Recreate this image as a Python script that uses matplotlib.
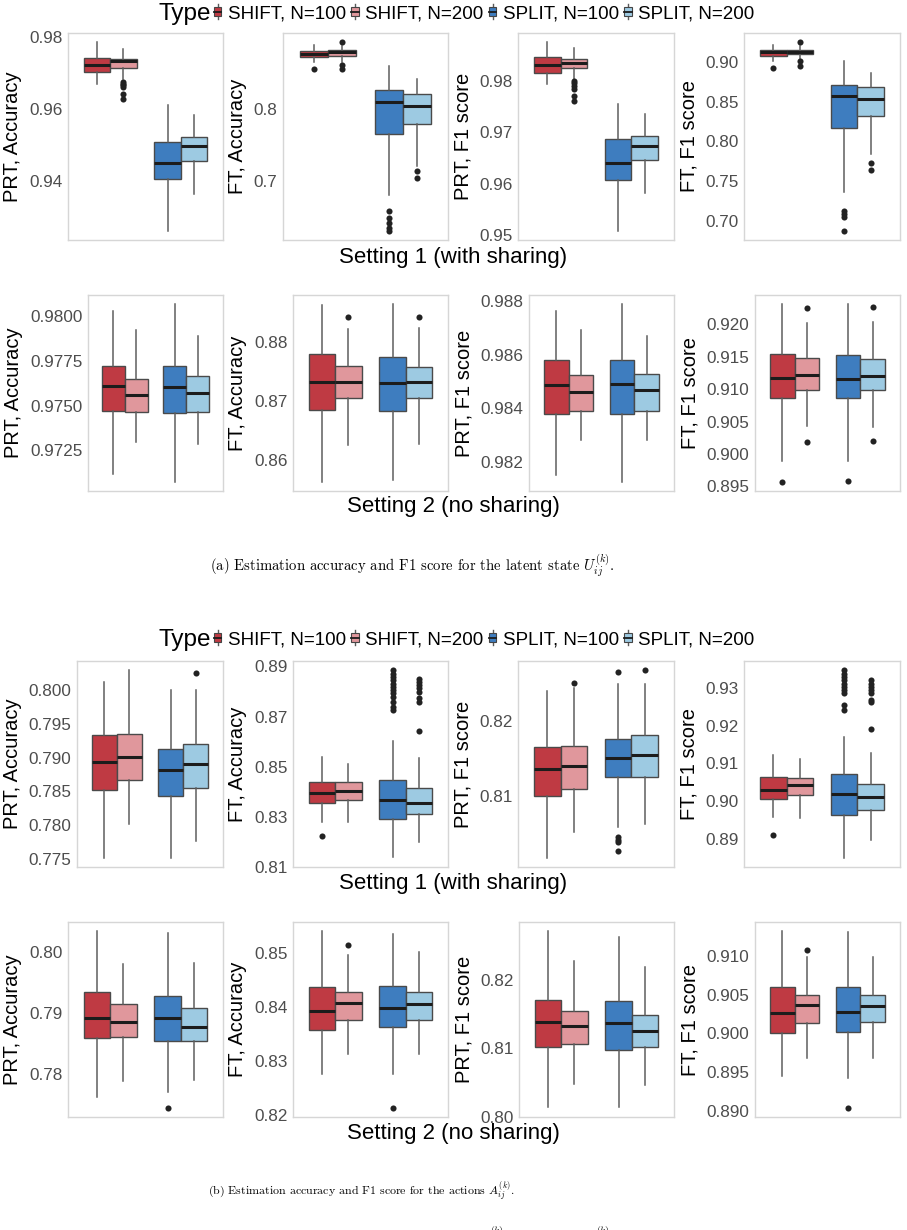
import matplotlib
matplotlib.use("Agg")
import matplotlib.pyplot as plt
from matplotlib.legend_handler import HandlerBase
from matplotlib.patches import Rectangle
from matplotlib.lines import Line2D

# box stats per group: [lower whisker, q1, median, q3, upper whisker]
# group order: SHIFT N=100, SHIFT N=200, SPLIT N=100, SPLIT N=200
types = ['SHIFT, N=100', 'SHIFT, N=200', 'SPLIT, N=100', 'SPLIT, N=200']
colors = ['#BF3A43', '#E0979C', '#3E7DBF', '#9DCAE2']

# (a) latent state U, setting 1
u1_prt_acc = [[0.96685, 0.97028, 0.97213, 0.97417, 0.97843],
              [0.96824, 0.97139, 0.97315, 0.97370, 0.97657],
              [0.92630, 0.94046, 0.94509, 0.95093, 0.96102],
              [0.93648, 0.94565, 0.94963, 0.95231, 0.95833]]
u1_prt_acc_out = [[], [0.9675, 0.9670, 0.9665, 0.9661, 0.9641, 0.9628], [], []]
u1_ft_acc = [[0.8648, 0.8727, 0.8764, 0.8810, 0.8894],
             [0.8648, 0.8741, 0.8787, 0.8819, 0.8880],
             [0.6806, 0.7653, 0.8102, 0.8269, 0.8602],
             [0.7213, 0.7801, 0.8046, 0.8208, 0.8417]]
u1_ft_acc_out = [[0.8556], [0.8926, 0.8611, 0.8556],
                 [0.6588, 0.6495, 0.6426, 0.6356, 0.6319], [0.7144, 0.7051]]
u1_prt_f1 = [[0.97935, 0.98163, 0.98306, 0.98456, 0.98749],
             [0.98033, 0.98248, 0.98358, 0.98423, 0.98632],
             [0.95088, 0.96078, 0.96404, 0.96873, 0.97544],
             [0.95818, 0.96456, 0.96743, 0.96925, 0.97349]]
u1_prt_f1_out = [[], [0.9800, 0.9795, 0.9790, 0.9784, 0.97707, 0.97609], [], []]
u1_ft_f1 = [[0.9013, 0.9084, 0.9126, 0.9151, 0.9222],
            [0.9034, 0.9105, 0.9130, 0.9159, 0.9201],
            [0.7365, 0.8174, 0.8572, 0.8719, 0.9021],
            [0.7839, 0.8321, 0.8539, 0.8686, 0.8866]]
u1_ft_f1_out = [[0.8929], [0.9252, 0.9013, 0.8950],
                [0.7126, 0.7084, 0.7042, 0.6874], [0.7725, 0.7637]]

# (a) latent state U, setting 2
u2_prt_acc = [[0.97115, 0.97469, 0.97610, 0.97724, 0.98028],
              [0.97297, 0.97462, 0.97559, 0.97649, 0.97925],
              [0.97072, 0.97460, 0.97606, 0.97724, 0.98069],
              [0.97284, 0.97465, 0.97572, 0.97666, 0.97891]]
u2_prt_acc_out = [[], [], [], []]
u2_ft_acc = [[0.85617, 0.86846, 0.87314, 0.87789, 0.88629],
             [0.86246, 0.87046, 0.87326, 0.87589, 0.88217],
             [0.85657, 0.86834, 0.87297, 0.87749, 0.88646],
             [0.86257, 0.87040, 0.87314, 0.87577, 0.88229]]
u2_ft_acc_out = [[], [0.88429], [], [0.88429]]
u2_prt_f1 = [[0.98153, 0.98379, 0.98488, 0.98581, 0.98763],
             [0.98281, 0.98390, 0.98460, 0.98525, 0.98691],
             [0.98125, 0.98379, 0.98490, 0.98579, 0.98790],
             [0.98281, 0.98390, 0.98468, 0.98528, 0.98669]]
u2_prt_f1_out = [[], [], [], []]
u2_ft_f1 = [[0.89888, 0.90861, 0.91172, 0.91539, 0.92311],
            [0.90432, 0.90991, 0.91213, 0.91472, 0.92010],
            [0.89888, 0.90861, 0.91161, 0.91524, 0.92311],
            [0.90421, 0.90991, 0.91208, 0.91467, 0.92036]]
u2_ft_f1_out = [[0.89567], [0.92248, 0.90178], [0.89583], [0.92259, 0.90199]]

# (b) actions A, setting 1
a1_prt_acc = [[0.77515, 0.78515, 0.78936, 0.79332, 0.80124],
              [0.78020, 0.78663, 0.79010, 0.79347, 0.80297],
              [0.77515, 0.78431, 0.78822, 0.79134, 0.80010],
              [0.77762, 0.78550, 0.78911, 0.79208, 0.80000]]
a1_prt_acc_out = [[], [], [], [0.80257]]
a1_ft_acc = [[0.82779, 0.83544, 0.83939, 0.84400, 0.85376],
             [0.82779, 0.83676, 0.84031, 0.84387, 0.85112],
             [0.81396, 0.82911, 0.83676, 0.84453, 0.86008],
             [0.81989, 0.83109, 0.83570, 0.84163, 0.85349]]
a1_ft_acc_out = [[0.82252], [],
                 [0.88842, 0.8871, 0.88578, 0.88446, 0.88315, 0.88183,
                  0.88051, 0.87919, 0.87787, 0.8759, 0.87392, 0.8726],
                 [0.8851, 0.8838, 0.8825, 0.8812, 0.8799, 0.8772, 0.8759, 0.86404]]
a1_prt_f1 = [[0.80169, 0.81000, 0.81356, 0.81644, 0.82400],
             [0.80511, 0.81089, 0.81391, 0.81658, 0.82444],
             [0.80578, 0.81244, 0.81498, 0.81756, 0.82489],
             [0.80622, 0.81253, 0.81542, 0.81813, 0.82489]]
a1_prt_f1_out = [[], [0.82511], [0.82653, 0.80444, 0.80409, 0.80378, 0.80253], [0.82676]]
a1_ft_f1 = [[0.89569, 0.90050, 0.90287, 0.90637, 0.91232],
            [0.89543, 0.90155, 0.90427, 0.90619, 0.91118],
            [0.88501, 0.89639, 0.90182, 0.90707, 0.91687],
            [0.88956, 0.89762, 0.90095, 0.90462, 0.91276]]
a1_ft_f1_out = [[0.89105], [],
                [0.93464, 0.93376, 0.93289, 0.93201, 0.93114, 0.93026,
                 0.92939, 0.92851, 0.92545, 0.92414],
                [0.93201, 0.93114, 0.93026, 0.92939, 0.92851, 0.92676, 0.92632, 0.91915]]

# (b) actions A, setting 2
a2_prt_acc = [[0.77636, 0.78587, 0.78924, 0.79348, 0.80342],
              [0.77897, 0.78603, 0.78848, 0.79147, 0.79793],
              [0.77707, 0.78549, 0.78924, 0.79277, 0.80310],
              [0.77908, 0.78549, 0.78777, 0.79076, 0.79821]]
a2_prt_acc_out = [[], [], [0.77446], []]
a2_ft_acc = [[0.82757, 0.83571, 0.83928, 0.84359, 0.85407],
             [0.83127, 0.83755, 0.84063, 0.84279, 0.84957],
             [0.82757, 0.83620, 0.83971, 0.84384, 0.85357],
             [0.83121, 0.83755, 0.84051, 0.84267, 0.85018]]
a2_ft_acc_out = [[], [0.85142], [0.82123], []]
a2_prt_f1 = [[0.80150, 0.81017, 0.81385, 0.81709, 0.82717],
             [0.80475, 0.81065, 0.81332, 0.81554, 0.82276],
             [0.80145, 0.80983, 0.81370, 0.81695, 0.82620],
             [0.80460, 0.81017, 0.81259, 0.81492, 0.82184]]
a2_prt_f1_out = [[], [], [], []]
a2_ft_f1 = [[0.89451, 0.90009, 0.90266, 0.90601, 0.91322],
            [0.89678, 0.90137, 0.90365, 0.90494, 0.90987],
            [0.89429, 0.90013, 0.90270, 0.90601, 0.91309],
            [0.89678, 0.90142, 0.90356, 0.90494, 0.90987]]
a2_ft_f1_out = [[], [0.91073], [0.89034], []]

# y tick labels as printed
u1_ticks = [['0.94', '0.96', '0.98'], ['0.7', '0.8'],
            ['0.95', '0.96', '0.97', '0.98'], ['0.70', '0.75', '0.80', '0.85', '0.90']]
u2_ticks = [['0.9725', '0.9750', '0.9775', '0.9800'], ['0.86', '0.87', '0.88'],
            ['0.982', '0.984', '0.986', '0.988'],
            ['0.895', '0.900', '0.905', '0.910', '0.915', '0.920']]
a1_ticks = [['0.775', '0.780', '0.785', '0.790', '0.795', '0.800'],
            ['0.81', '0.83', '0.85', '0.87', '0.89'], ['0.81', '0.82'],
            ['0.89', '0.90', '0.91', '0.92', '0.93']]
a2_ticks = [['0.78', '0.79', '0.80'], ['0.82', '0.83', '0.84', '0.85'],
            ['0.80', '0.81', '0.82'], ['0.890', '0.895', '0.900', '0.905', '0.910']]

ylabels = ['PRT, Accuracy', 'FT, Accuracy', 'PRT, F1 score', 'FT, F1 score']

plt.rcParams['font.family'] = ['Liberation Sans', 'DejaVu Sans']
plt.rcParams['mathtext.fontset'] = 'cm'

W, H = 907, 1230
fig = plt.figure(figsize=(W / 100, H / 100), dpi=100)


def add_ax(left, top, right, bottom):
    return fig.add_axes([left / W, 1 - bottom / H, (right - left) / W, (bottom - top) / H])


def draw_panel(ax, stats, outs, ylabel, ticks):
    pos = [0.8125, 1.1875, 1.8125, 2.1875]
    bstats = [dict(whislo=s[0], q1=s[1], med=s[2], q3=s[3], whishi=s[4], fliers=o)
              for s, o in zip(stats, outs)]
    art = ax.bxp(bstats, positions=pos, widths=0.375, patch_artist=True,
                 showcaps=False, manage_ticks=False,
                 boxprops=dict(edgecolor='#4a4a4a', linewidth=1.0),
                 medianprops=dict(color='#1c1c1c', linewidth=2.2),
                 whiskerprops=dict(color='#5e5e5e', linewidth=1.1),
                 flierprops=dict(marker='o', markerfacecolor='#222222',
                                 markeredgecolor='none', markersize=4.4))
    for box, c in zip(art['boxes'], colors):
        box.set_facecolor(c)
    vals = [v for s in stats for v in s] + [v for o in outs for v in o]
    lo, hi = min(vals), max(vals)
    pad = 0.05 * (hi - lo)
    ax.set_ylim(lo - pad, hi + pad)
    ax.set_xlim(0.4, 2.6)
    ax.set_xticks([])
    ax.set_yticks([float(t) for t in ticks])
    ax.set_yticklabels(ticks)
    ax.tick_params(axis='y', length=0, labelsize=12.3, labelcolor='#4d4d4d', pad=4)
    for sp in ax.spines.values():
        sp.set_color('#d6d6d6')
        sp.set_linewidth(1.0)
    ax.set_ylabel(ylabel, fontsize=14.5, labelpad=5)


class BoxKey(HandlerBase):
    def create_artists(self, legend, orig_handle, xdescent, ydescent,
                       width, height, fontsize, trans):
        x0, y0 = -xdescent, -ydescent
        cx = x0 + width / 2
        wl = Line2D([cx, cx], [y0 - 0.3 * height, y0 + 1.3 * height],
                    color='#5a5a5a', lw=1.0, transform=trans)
        r = Rectangle((x0, y0), width, height, facecolor=orig_handle.get_facecolor(),
                      edgecolor='#454545', lw=0.8, transform=trans)
        m = Line2D([x0, x0 + width], [y0 + height / 2] * 2, color='#1c1c1c',
                   lw=1.3, transform=trans)
        return [wl, r, m]


def add_legend(y):
    fig.text(211 / W, 1 - y / H, 'Type', fontsize=17.5, ha='right', va='center')
    handles = [Rectangle((0, 0), 1, 1, facecolor=c) for c in colors]
    fig.legend(handles, types, ncol=4, loc='center left',
               bbox_to_anchor=(214 / W, 1 - y / H), frameon=False, fontsize=13.5,
               handlelength=0.38, handleheight=0.38, handletextpad=0.35,
               columnspacing=0.3, borderpad=0, borderaxespad=0,
               handler_map={Rectangle: BoxKey()})


# axes frames in pixels: (left, top, right, bottom)
layout = [
    ([(68, 33, 223, 240), (283, 33, 448, 240), (518, 33, 674, 240), (744, 33, 900, 240)],
     [u1_prt_acc, u1_ft_acc, u1_prt_f1, u1_ft_f1],
     [u1_prt_acc_out, u1_ft_acc_out, u1_prt_f1_out, u1_ft_f1_out], u1_ticks),
    ([(88, 295, 223, 491), (293, 295, 448, 491), (529, 295, 674, 491), (755, 295, 900, 491)],
     [u2_prt_acc, u2_ft_acc, u2_prt_f1, u2_ft_f1],
     [u2_prt_acc_out, u2_ft_acc_out, u2_prt_f1_out, u2_ft_f1_out], u2_ticks),
    ([(77, 661, 223, 867), (293, 661, 448, 867), (518, 661, 674, 867), (744, 661, 900, 867)],
     [a1_prt_acc, a1_ft_acc, a1_prt_f1, a1_ft_f1],
     [a1_prt_acc_out, a1_ft_acc_out, a1_prt_f1_out, a1_ft_f1_out], a1_ticks),
    ([(68, 922, 223, 1117), (293, 922, 448, 1117), (519, 922, 674, 1117), (755, 922, 900, 1117)],
     [a2_prt_acc, a2_ft_acc, a2_prt_f1, a2_ft_f1],
     [a2_prt_acc_out, a2_ft_acc_out, a2_prt_f1_out, a2_ft_f1_out], a2_ticks),
]

for frames, stats_row, outs_row, ticks_row in layout:
    for fr, st, ou, lab, tk in zip(frames, stats_row, outs_row, ylabels, ticks_row):
        draw_panel(add_ax(*fr), st, ou, lab, tk)

add_legend(14)
add_legend(640)

for y, txt in [(257, 'Setting 1 (with sharing)'), (507, 'Setting 2 (no sharing)'),
               (883, 'Setting 1 (with sharing)'), (1134, 'Setting 2 (no sharing)')]:
    fig.text(453 / W, 1 - y / H, txt, fontsize=16, ha='center', va='center')

fig.text(210 / W, 1 - 566 / H,
         r'(a) Estimation accuracy and F1 score for the latent state $U_{ij}^{(k)}$.',
         fontsize=10.6, family='cmr10', ha='left', va='center')
fig.text(208 / W, 1 - 1192 / H,
         r'(b) Estimation accuracy and F1 score for the actions $A_{ij}^{(k)}$.',
         fontsize=8.6, family='cmr10', ha='left', va='center')
# superscripts of the next caption line, cut off by the page edge
fig.text(497 / W, 1 - 1224 / H, r'$(k)$', fontsize=7, ha='center', va='top')
fig.text(603 / W, 1 - 1224 / H, r'$(k)$', fontsize=7, ha='center', va='top')

fig.savefig('out.png', dpi=100)
